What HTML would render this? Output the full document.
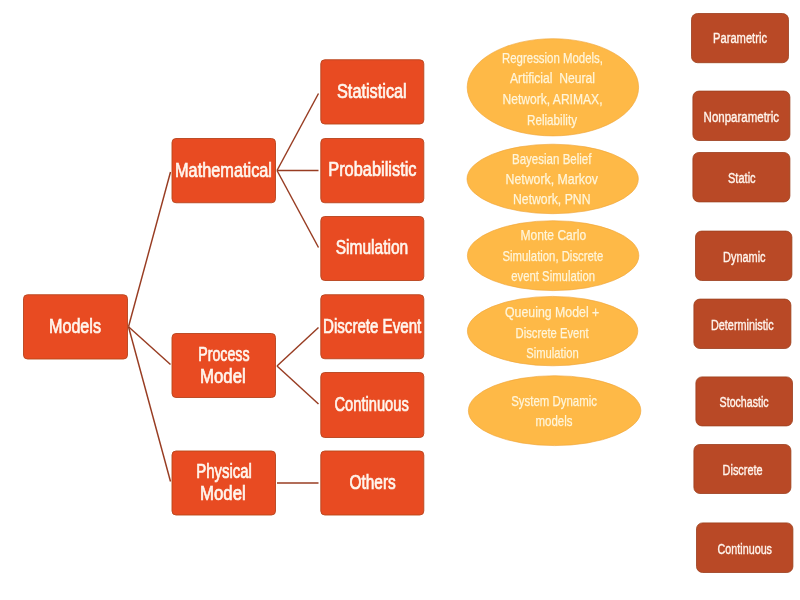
<!DOCTYPE html>
<html lang="en"><head><meta charset="utf-8"><title>Models</title>
<style>html,body{margin:0;padding:0;background:#fff;}body{width:800px;height:600px;overflow:hidden;}svg{display:block;}text{font-family:"Liberation Sans",sans-serif;white-space:pre;}</style>
</head><body>
<svg width="800" height="600" viewBox="0 0 800 600">
<rect width="800" height="600" fill="#ffffff"/>
<defs><filter id="soft" x="-5%" y="-5%" width="110%" height="110%"><feGaussianBlur stdDeviation="0.35"/></filter><filter id="tsoft" x="-5%" y="-5%" width="110%" height="110%"><feGaussianBlur stdDeviation="0.15"/></filter></defs>
<g stroke="#983C22" stroke-width="1.45" fill="none" stroke-linecap="butt">
<line x1="128.5" y1="326.8" x2="170.5" y2="172"/>
<line x1="128.5" y1="326.8" x2="170.5" y2="364.5"/>
<line x1="128.5" y1="326.8" x2="170.5" y2="481.5"/>
<line x1="277" y1="170.5" x2="318.5" y2="93.5"/>
<line x1="277" y1="170.5" x2="318.5" y2="170.5"/>
<line x1="277" y1="170.5" x2="318.5" y2="247.5"/>
<line x1="277" y1="366" x2="318.5" y2="327.5"/>
<line x1="277" y1="366" x2="318.5" y2="404"/>
<line x1="277" y1="483" x2="318.5" y2="483"/>
</g>
<g filter="url(#soft)">
<rect x="23.50" y="294.75" width="104.00" height="64.25" rx="4" ry="4" fill="#E84C22" stroke="#B8451E" stroke-width="1" stroke-opacity="0.9"/>
<rect x="172.00" y="138.50" width="103.50" height="64.25" rx="4" ry="4" fill="#E84C22" stroke="#B8451E" stroke-width="1" stroke-opacity="0.9"/>
<rect x="172.00" y="333.50" width="103.50" height="64.00" rx="4" ry="4" fill="#E84C22" stroke="#B8451E" stroke-width="1" stroke-opacity="0.9"/>
<rect x="172.00" y="451.00" width="103.50" height="64.00" rx="4" ry="4" fill="#E84C22" stroke="#B8451E" stroke-width="1" stroke-opacity="0.9"/>
<rect x="320.80" y="59.75" width="103.00" height="64.25" rx="4" ry="4" fill="#E84C22" stroke="#B8451E" stroke-width="1" stroke-opacity="0.9"/>
<rect x="320.80" y="138.50" width="103.00" height="64.25" rx="4" ry="4" fill="#E84C22" stroke="#B8451E" stroke-width="1" stroke-opacity="0.9"/>
<rect x="320.80" y="216.50" width="103.00" height="64.00" rx="4" ry="4" fill="#E84C22" stroke="#B8451E" stroke-width="1" stroke-opacity="0.9"/>
<rect x="320.80" y="294.75" width="103.00" height="64.00" rx="4" ry="4" fill="#E84C22" stroke="#B8451E" stroke-width="1" stroke-opacity="0.9"/>
<rect x="320.80" y="372.50" width="103.00" height="65.00" rx="4" ry="4" fill="#E84C22" stroke="#B8451E" stroke-width="1" stroke-opacity="0.9"/>
<rect x="320.80" y="451.00" width="103.00" height="64.00" rx="4" ry="4" fill="#E84C22" stroke="#B8451E" stroke-width="1" stroke-opacity="0.9"/>
<ellipse cx="552.90" cy="87.30" rx="85.70" ry="48.60" fill="#FEB946" stroke="#EFA63A" stroke-width="0.8" stroke-opacity="0.8"/>
<ellipse cx="552.67" cy="178.95" rx="85.67" ry="34.75" fill="#FEB946" stroke="#EFA63A" stroke-width="0.8" stroke-opacity="0.8"/>
<ellipse cx="553.12" cy="255.65" rx="85.72" ry="34.95" fill="#FEB946" stroke="#EFA63A" stroke-width="0.8" stroke-opacity="0.8"/>
<ellipse cx="552.60" cy="331.10" rx="85.20" ry="34.70" fill="#FEB946" stroke="#EFA63A" stroke-width="0.8" stroke-opacity="0.8"/>
<ellipse cx="554.62" cy="410.65" rx="86.22" ry="34.95" fill="#FEB946" stroke="#EFA63A" stroke-width="0.8" stroke-opacity="0.8"/>
<rect x="691.50" y="13.50" width="97.00" height="49.20" rx="6" ry="6" fill="#B94A26" stroke="#9C3E1C" stroke-width="1" stroke-opacity="0.8"/>
<rect x="692.90" y="91.10" width="97.00" height="49.40" rx="6" ry="6" fill="#B94A26" stroke="#9C3E1C" stroke-width="1" stroke-opacity="0.8"/>
<rect x="692.90" y="152.50" width="97.00" height="49.40" rx="6" ry="6" fill="#B94A26" stroke="#9C3E1C" stroke-width="1" stroke-opacity="0.8"/>
<rect x="695.50" y="231.10" width="96.40" height="49.40" rx="6" ry="6" fill="#B94A26" stroke="#9C3E1C" stroke-width="1" stroke-opacity="0.8"/>
<rect x="693.90" y="299.10" width="97.00" height="49.40" rx="6" ry="6" fill="#B94A26" stroke="#9C3E1C" stroke-width="1" stroke-opacity="0.8"/>
<rect x="695.90" y="376.90" width="96.60" height="49.00" rx="6" ry="6" fill="#B94A26" stroke="#9C3E1C" stroke-width="1" stroke-opacity="0.8"/>
<rect x="693.90" y="444.50" width="97.00" height="49.00" rx="6" ry="6" fill="#B94A26" stroke="#9C3E1C" stroke-width="1" stroke-opacity="0.8"/>
<rect x="696.50" y="522.90" width="96.40" height="49.60" rx="6" ry="6" fill="#B94A26" stroke="#9C3E1C" stroke-width="1" stroke-opacity="0.8"/>
</g>
<g filter="url(#tsoft)">
<text x="49.00" y="332.50" font-size="20" fill="#FFF6EE" stroke="#FFF6EE" stroke-width="0.7" textLength="52.00" lengthAdjust="spacingAndGlyphs" xml:space="preserve">Models</text>
<text x="175.00" y="176.50" font-size="20" fill="#FFF6EE" stroke="#FFF6EE" stroke-width="0.7" textLength="97.00" lengthAdjust="spacingAndGlyphs" xml:space="preserve">Mathematical</text>
<text x="198.25" y="360.75" font-size="20" fill="#FFF6EE" stroke="#FFF6EE" stroke-width="0.7" textLength="51.25" lengthAdjust="spacingAndGlyphs" xml:space="preserve">Process</text>
<text x="200.00" y="383.25" font-size="20" fill="#FFF6EE" stroke="#FFF6EE" stroke-width="0.7" textLength="45.75" lengthAdjust="spacingAndGlyphs" xml:space="preserve">Model</text>
<text x="196.25" y="477.50" font-size="20" fill="#FFF6EE" stroke="#FFF6EE" stroke-width="0.7" textLength="55.50" lengthAdjust="spacingAndGlyphs" xml:space="preserve">Physical</text>
<text x="200.00" y="500.00" font-size="20" fill="#FFF6EE" stroke="#FFF6EE" stroke-width="0.7" textLength="45.75" lengthAdjust="spacingAndGlyphs" xml:space="preserve">Model</text>
<text x="337.00" y="98.00" font-size="20" fill="#FFF6EE" stroke="#FFF6EE" stroke-width="0.7" textLength="69.75" lengthAdjust="spacingAndGlyphs" xml:space="preserve">Statistical</text>
<text x="328.25" y="176.25" font-size="20" fill="#FFF6EE" stroke="#FFF6EE" stroke-width="0.7" textLength="88.25" lengthAdjust="spacingAndGlyphs" xml:space="preserve">Probabilistic</text>
<text x="335.75" y="253.75" font-size="20" fill="#FFF6EE" stroke="#FFF6EE" stroke-width="0.7" textLength="72.50" lengthAdjust="spacingAndGlyphs" xml:space="preserve">Simulation</text>
<text x="323.00" y="332.50" font-size="20" fill="#FFF6EE" stroke="#FFF6EE" stroke-width="0.7" textLength="98.25" lengthAdjust="spacingAndGlyphs" xml:space="preserve">Discrete Event</text>
<text x="334.50" y="411.25" font-size="20" fill="#FFF6EE" stroke="#FFF6EE" stroke-width="0.7" textLength="74.25" lengthAdjust="spacingAndGlyphs" xml:space="preserve">Continuous</text>
<text x="349.50" y="488.75" font-size="20" fill="#FFF6EE" stroke="#FFF6EE" stroke-width="0.7" textLength="46.25" lengthAdjust="spacingAndGlyphs" xml:space="preserve">Others</text>
<text x="502.00" y="62.50" font-size="15" fill="#FFF5DA" stroke="#FFF5DA" stroke-width="0.25" textLength="101.00" lengthAdjust="spacingAndGlyphs" xml:space="preserve">Regression Models,</text>
<text x="510.00" y="83.25" font-size="15" fill="#FFF5DA" stroke="#FFF5DA" stroke-width="0.25" textLength="85.00" lengthAdjust="spacingAndGlyphs" xml:space="preserve">Artificial  Neural</text>
<text x="502.50" y="103.75" font-size="15" fill="#FFF5DA" stroke="#FFF5DA" stroke-width="0.25" textLength="100.00" lengthAdjust="spacingAndGlyphs" xml:space="preserve">Network, ARIMAX,</text>
<text x="527.00" y="124.50" font-size="15" fill="#FFF5DA" stroke="#FFF5DA" stroke-width="0.25" textLength="50.00" lengthAdjust="spacingAndGlyphs" xml:space="preserve">Reliability</text>
<text x="512.00" y="163.75" font-size="15" fill="#FFF5DA" stroke="#FFF5DA" stroke-width="0.25" textLength="79.50" lengthAdjust="spacingAndGlyphs" xml:space="preserve">Bayesian Belief</text>
<text x="505.50" y="183.75" font-size="15" fill="#FFF5DA" stroke="#FFF5DA" stroke-width="0.25" textLength="92.50" lengthAdjust="spacingAndGlyphs" xml:space="preserve">Network, Markov</text>
<text x="513.00" y="204.25" font-size="15" fill="#FFF5DA" stroke="#FFF5DA" stroke-width="0.25" textLength="77.50" lengthAdjust="spacingAndGlyphs" xml:space="preserve">Network, PNN</text>
<text x="520.50" y="240.00" font-size="15" fill="#FFF5DA" stroke="#FFF5DA" stroke-width="0.25" textLength="65.75" lengthAdjust="spacingAndGlyphs" xml:space="preserve">Monte Carlo</text>
<text x="502.50" y="260.75" font-size="15" fill="#FFF5DA" stroke="#FFF5DA" stroke-width="0.25" textLength="100.75" lengthAdjust="spacingAndGlyphs" xml:space="preserve">Simulation, Discrete</text>
<text x="511.25" y="280.50" font-size="15" fill="#FFF5DA" stroke="#FFF5DA" stroke-width="0.25" textLength="83.75" lengthAdjust="spacingAndGlyphs" xml:space="preserve">event Simulation</text>
<text x="505.00" y="317.00" font-size="15" fill="#FFF5DA" stroke="#FFF5DA" stroke-width="0.25" textLength="94.25" lengthAdjust="spacingAndGlyphs" xml:space="preserve">Queuing Model +</text>
<text x="515.50" y="337.50" font-size="15" fill="#FFF5DA" stroke="#FFF5DA" stroke-width="0.25" textLength="73.25" lengthAdjust="spacingAndGlyphs" xml:space="preserve">Discrete Event</text>
<text x="526.25" y="357.50" font-size="15" fill="#FFF5DA" stroke="#FFF5DA" stroke-width="0.25" textLength="52.50" lengthAdjust="spacingAndGlyphs" xml:space="preserve">Simulation</text>
<text x="511.25" y="405.50" font-size="15" fill="#FFF5DA" stroke="#FFF5DA" stroke-width="0.25" textLength="85.75" lengthAdjust="spacingAndGlyphs" xml:space="preserve">System Dynamic</text>
<text x="535.50" y="425.75" font-size="15" fill="#FFF5DA" stroke="#FFF5DA" stroke-width="0.25" textLength="37.00" lengthAdjust="spacingAndGlyphs" xml:space="preserve">models</text>
<text x="713.00" y="43.20" font-size="15.5" fill="#FFF4EC" stroke="#FFF4EC" stroke-width="0.4" textLength="54.00" lengthAdjust="spacingAndGlyphs" xml:space="preserve">Parametric</text>
<text x="703.60" y="121.60" font-size="15.5" fill="#FFF4EC" stroke="#FFF4EC" stroke-width="0.4" textLength="75.40" lengthAdjust="spacingAndGlyphs" xml:space="preserve">Nonparametric</text>
<text x="728.00" y="183.00" font-size="15.5" fill="#FFF4EC" stroke="#FFF4EC" stroke-width="0.4" textLength="27.60" lengthAdjust="spacingAndGlyphs" xml:space="preserve">Static</text>
<text x="723.00" y="261.60" font-size="15.5" fill="#FFF4EC" stroke="#FFF4EC" stroke-width="0.4" textLength="42.60" lengthAdjust="spacingAndGlyphs" xml:space="preserve">Dynamic</text>
<text x="711.00" y="329.60" font-size="15.5" fill="#FFF4EC" stroke="#FFF4EC" stroke-width="0.4" textLength="62.60" lengthAdjust="spacingAndGlyphs" xml:space="preserve">Deterministic</text>
<text x="719.60" y="407.40" font-size="15.5" fill="#FFF4EC" stroke="#FFF4EC" stroke-width="0.4" textLength="49.00" lengthAdjust="spacingAndGlyphs" xml:space="preserve">Stochastic</text>
<text x="722.60" y="475.00" font-size="15.5" fill="#FFF4EC" stroke="#FFF4EC" stroke-width="0.4" textLength="40.00" lengthAdjust="spacingAndGlyphs" xml:space="preserve">Discrete</text>
<text x="717.60" y="553.60" font-size="15.5" fill="#FFF4EC" stroke="#FFF4EC" stroke-width="0.4" textLength="54.40" lengthAdjust="spacingAndGlyphs" xml:space="preserve">Continuous</text>
</g>
</svg>
</body></html>
